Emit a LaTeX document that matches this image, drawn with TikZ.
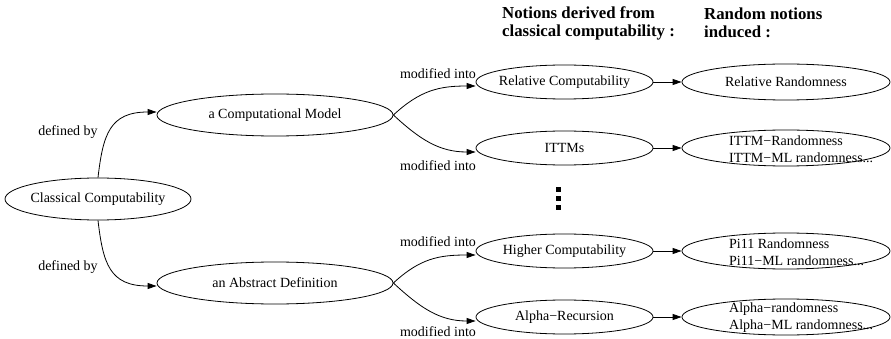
\documentclass[tikz,border=0pt]{standalone}
\usepackage{fontspec}
\setmainfont{Liberation Serif}
\usetikzlibrary{shapes.geometric,arrows.meta}
\begin{document}
\begin{tikzpicture}[x=1pt,y=-1pt,
  every node/.style={font=\fontsize{14}{17}\selectfont},
  ell/.style={draw, ellipse, inner sep=0pt, line width=0.8pt},
  ellA/.style={ell, minimum width=186pt, minimum height=42pt},
  ellB/.style={ell, minimum width=236pt, minimum height=42pt},
  ellC/.style={ell, minimum width=177pt, minimum height=34pt},
  ellD/.style={ell, minimum width=208pt, minimum height=36pt},
  txt/.style={inner sep=0pt, align=left},
  hdr/.style={txt, font=\fontsize{16.8}{18}\selectfont\bfseries, anchor=west},
  arr/.style={-{Triangle[length=9pt,width=6pt]}, line width=0.8pt},
  dotsq/.style={fill, minimum size=5pt, inner sep=0pt}
]
\useasboundingbox (0,0) rectangle (891,339);
% headers
\node[hdr] (h1) at (502,23) {Notions derived from\\classical computability :};
\node[hdr] (h2) at (704,23) {Random notions\\induced :};
% left nodes
\node[ellA] (cc) at (98,199) {};
\node[txt] (cct) at (cc) {Classical Computability};
\node[ellB] (cm) at (275,115) {};
\node[txt] (cmt) at (cm) {a Computational Model};
\node[ellB] (ad) at (275,283) {};
\node[txt] (adt) at (ad) {an Abstract Definition};
% middle nodes
\node[ellC] (rc) at (564.5,82) {};
\node[txt] (rct) at (rc) {Relative Computability};
\node[ellC] (it) at (564.5,148) {};
\node[txt] (itt) at (it) {ITTMs};
\node[ellC] (hc) at (564.5,251) {};
\node[txt] (hct) at (hc) {Higher Computability};
\node[ellC] (ar) at (564.5,317) {};
\node[txt] (art) at (ar) {Alpha−Recursion};
% right nodes
\node[ellD] (rr) at (786,82) {};
\node[txt] (rrt) at (rr) {Relative Randomness};
\node[ellD] (ir) at (786,148) {};
\node[txt, anchor=west] (irt) at (729,149) {ITTM−Randomness\\ITTM−ML randomness...};
\node[ellD] (pr) at (786,251) {};
\node[txt, anchor=west] (prt) at (729,252) {Pi11 Randomness\\Pi11−ML randomness...};
\node[ellD] (alr) at (786,317) {};
\node[txt, anchor=west] (alrt) at (729,318) {Alpha−randomness\\Alpha−ML randomness...};
% dots
\node[dotsq] (d1) at (558.5,190) {};
\node[dotsq] (d2) at (558.5,199) {};
\node[dotsq] (d3) at (558.5,208) {};
% edges
\draw[arr] (cc.north) .. controls +(5,-43) and +(-47,0) .. ([yshift=3pt]cm.west);
\draw[arr] (cc.south) .. controls +(5,43) and +(-47,0) .. ([yshift=-3pt]ad.west);
\draw[arr] (cm.east) .. controls +(27,-25) and +(-36,0) .. ([yshift=-4pt]rc.west);
\draw[arr] (cm.east) .. controls +(27,25) and +(-36,0) .. ([yshift=-4pt]it.west);
\draw[arr] (ad.east) .. controls +(27,-25) and +(-36,0) .. ([yshift=-4pt]hc.west);
\draw[arr] (ad.east) .. controls +(27,25) and +(-36,0) .. ([yshift=-4pt]ar.west);
\draw[arr] (rc) -- (rr);
\draw[arr] (it) -- (ir);
\draw[arr] (hc) -- (pr);
\draw[arr] (ar) -- (alr);
% labels
\node[txt] (l1) at (68,132) {defined by};
\node[txt] (l2) at (68,267) {defined by};
\node[txt] (l3) at (438,74) {modified into};
\node[txt] (l4) at (438,166) {modified into};
\node[txt] (l5) at (438,242) {modified into};
\node[txt] (l6) at (438,332) {modified into};
\end{tikzpicture}
\end{document}
